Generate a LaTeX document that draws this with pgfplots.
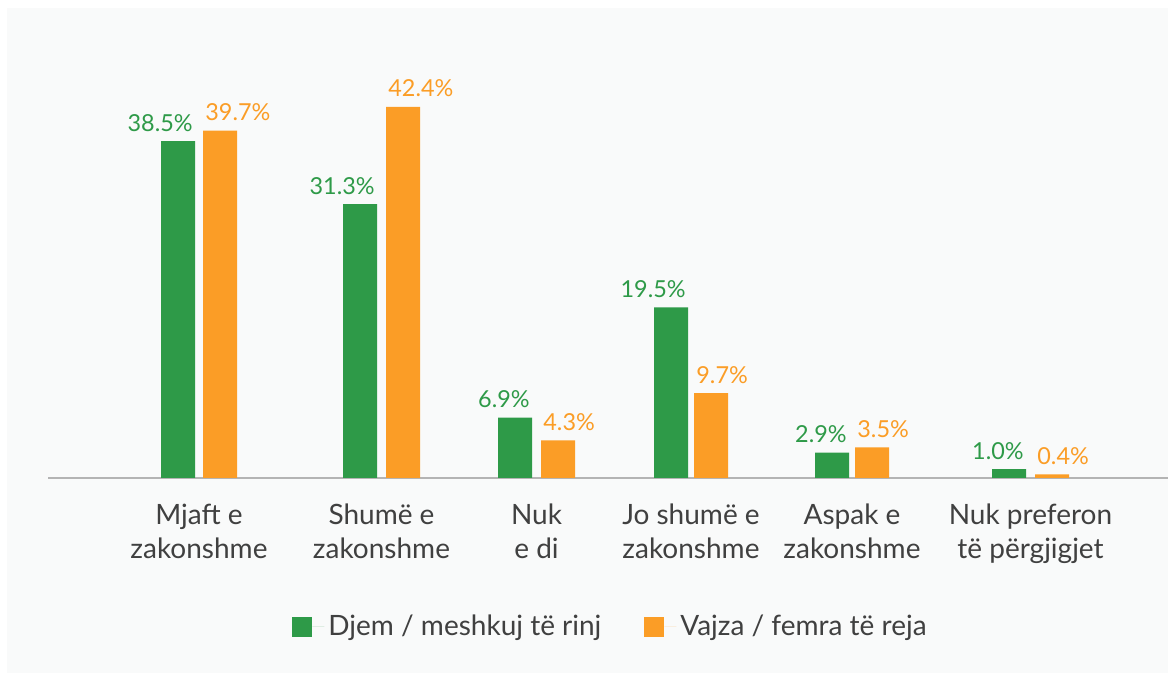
\documentclass[border=0pt]{standalone}
\usepackage{pgfplots}
\pgfplotsset{compat=1.18}
\usepackage{fontspec}
\setmainfont{Lato}
\definecolor{bggray}{HTML}{F9FAFA}
\definecolor{cgreen}{HTML}{2E9A48}
\definecolor{corange}{HTML}{FB9D26}
\definecolor{txt}{HTML}{404040}
\definecolor{axgray}{HTML}{B4B4B4}
\begin{document}
\begin{tikzpicture}
\useasboundingbox (0,0) rectangle (584pt,336.5pt);
\fill[bggray] (3.5pt,0) rectangle (584pt,332.5pt);
\begin{axis}[
  at={(24pt,97.5pt)}, anchor=south west,
  x=0.5pt, y=4.375pt,
  xmin=48, xmax=1168, ymin=0, ymax=54.6286,
  axis x line=bottom, axis y line=none,
  axis line style={-, draw=axgray, line width=0.75pt},
  ytick=\empty,
  xtick={199,381.5,536.5,691,852,1030.5},
  xticklabels={Mjaft e\\zakonshme, Shumë e\\zakonshme, Nuk\\e di, Jo shumë e\\zakonshme, Aspak e\\zakonshme, Nuk preferon\\të përgjigjet},
  xtick style={draw=none},
  xticklabel style={align=center, font=\fontsize{14}{17}\selectfont, text=txt, anchor=base, inner sep=0pt, yshift=-36pt},
  ybar, bar width=17pt, bar shift=0pt,
  clip=false,
  nodes near coords={\pgfmathprintnumber[fixed,fixed zerofill,precision=1,assume math mode=true]{\pgfplotspointmeta}\%},
  every node near coord/.append style={font=\fontsize{11.7}{13}\selectfont, inner sep=0pt},
  legend columns=2,
  legend style={draw=none, fill=none, at={(0.2125,-0.3117)}, anchor=west,
    font=\fontsize{14}{16}\selectfont, text=txt,
    /tikz/every even column/.append style={column sep=19.5pt}},
  legend image code/.code={\fill[#1] (0pt,-5pt) rectangle (10pt,5pt); \path (10pt,0) -- (16pt,0);},
]
\addplot[fill=cgreen, draw=none, every node near coord/.append style={text=cgreen, anchor=base east, xshift=7.5pt, yshift=5pt}]
  coordinates {(178,38.5) (360,31.3) (515,6.9) (671,19.5) (832,2.9) (1009,1.0)};
\addlegendentry{Djem / meshkuj të rinj}
\addplot[fill=corange, draw=none, every node near coord/.append style={text=corange, anchor=base west, xshift=-7.5pt, yshift=5pt}]
  coordinates {(220,39.7) (403,42.4) (558,4.3) (711,9.7) (872,3.5) (1052,0.4)};
\addlegendentry{Vajza / femra të reja}
\end{axis}
\end{tikzpicture}
\end{document}
